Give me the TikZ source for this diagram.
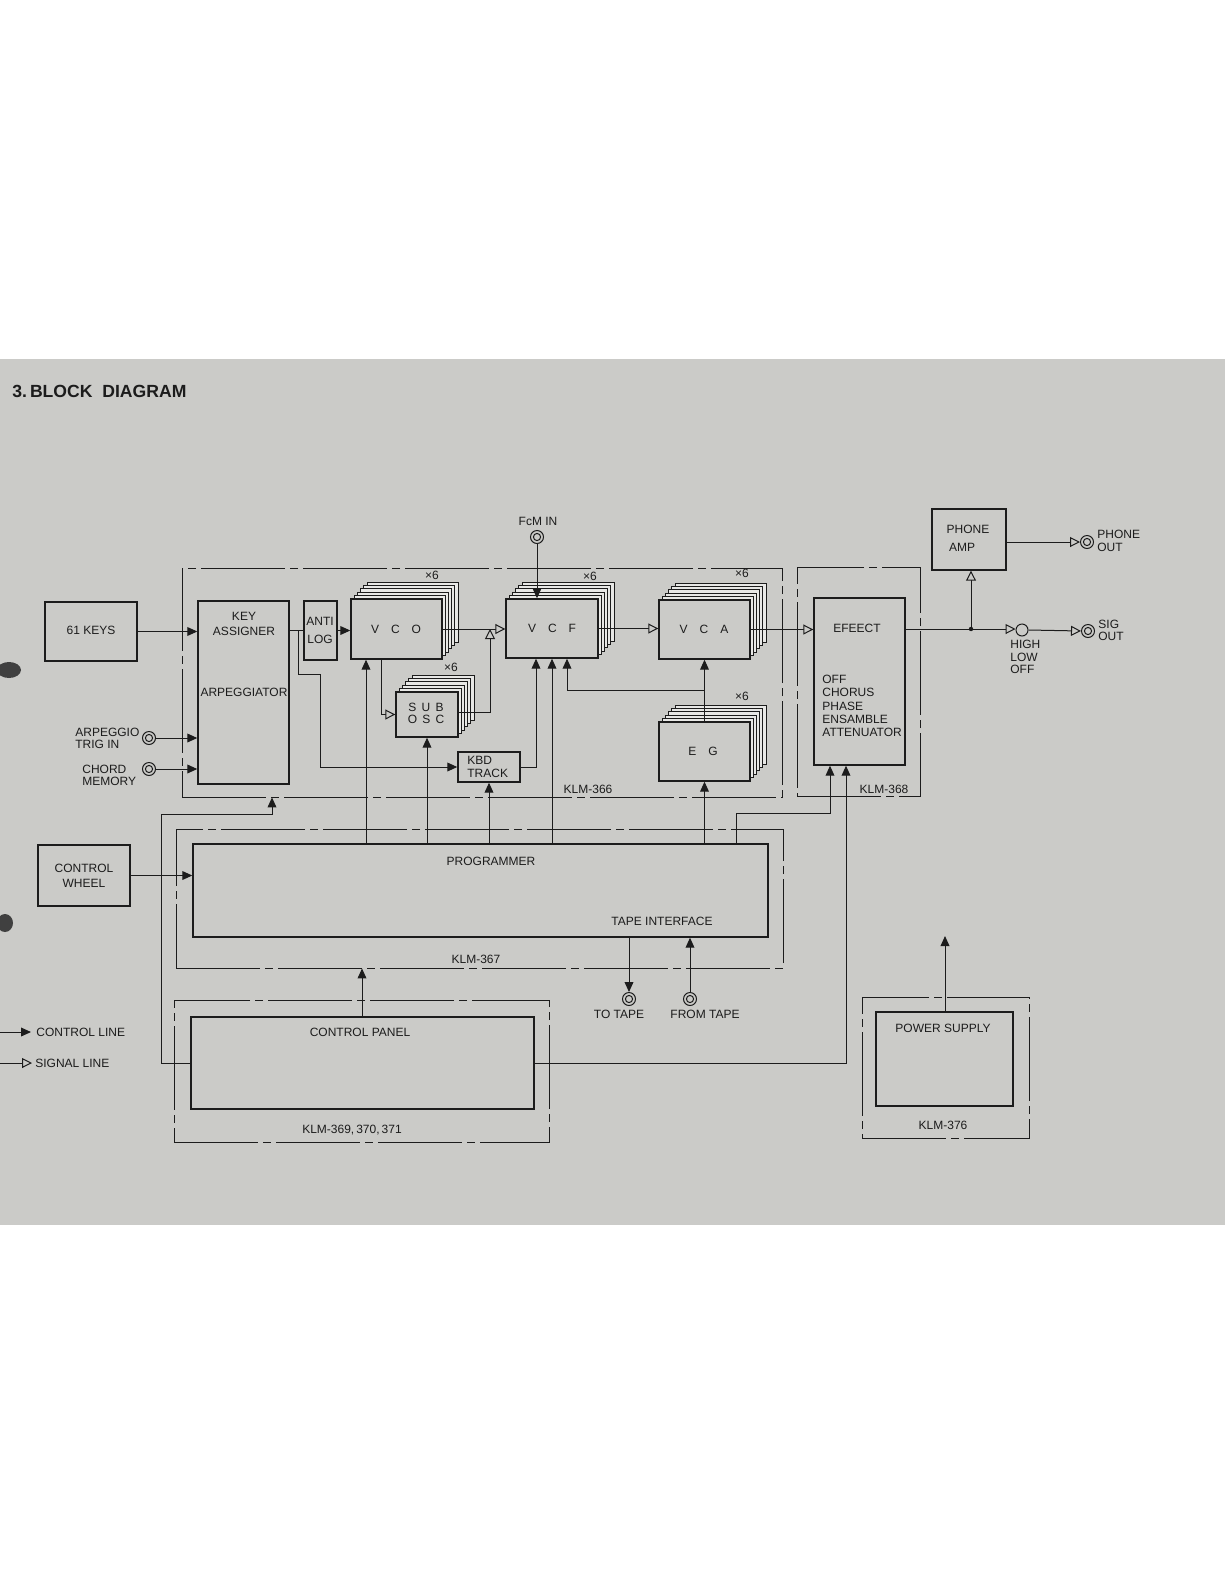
\documentclass[tikz,border=0pt]{standalone}
\usepackage{fontspec}
\setmainfont{Liberation Sans}
\usetikzlibrary{arrows.meta,fit}
\definecolor{paper}{RGB}{203,203,200}
\definecolor{ink}{RGB}{28,28,28}
\tikzset{
  blk/.style={draw=ink, line width=0.7pt, fill=paper, inner sep=0pt},
  sheet/.style={draw=ink, line width=0.4pt, fill=white!55!paper},
  wire/.style={draw=ink, line width=0.5pt},
  ctl/.style={wire, -{Triangle[length=5pt,width=4.4pt]}},
  sig/.style={wire, -{Triangle[open,length=5pt,width=5pt,fill=paper]}},
  dd/.style={draw=ink, line width=0.45pt, inner sep=0pt, dash pattern=on 42pt off 2.5pt on 4pt off 2.5pt},
  txt/.style={inner sep=0pt, text=ink, font=\fontsize{6}{7.2}\selectfont},
  jack/.style={circle, draw=ink, line width=0.5pt, fill=paper, minimum size=6.5pt, inner sep=0pt,
    path picture={\draw[ink, line width=0.5pt] (path picture bounding box.center) circle (1.8pt);}},
  ring/.style={circle, draw=ink, line width=0.5pt, fill=paper, minimum size=6pt, inner sep=0pt}
}
\newcommand\sheets[4]{\foreach \i in {5,4,3,2,1}{\draw[sheet] ({#1+3.2*\i},{#2-3.4*\i}) rectangle ({#3+3.2*\i},{#4-3.4*\i});}}
\begin{document}
\begin{tikzpicture}[x=0.5pt,y=-0.5pt]
\useasboundingbox[fill=white] (0,0) rectangle (1225,1585);
\fill[paper] (0,359) rectangle (1225,1225);
% binder marks
\fill[black!75] (9,670) ellipse (6pt and 4pt);
\fill[black!75] (5,923) ellipse (4pt and 4.5pt);

% title
\node[inner sep=0pt, text=ink, anchor=west, font=\fontsize{8.8}{10}\selectfont\bfseries] (title) at (12,391) {3.\,BLOCK\ \ DIAGRAM};

% board outlines
\node[dd, fit={(182,568)(782,797)}] (k366) {};
\node[dd, fit={(797,567)(920,796)}] (k368) {};
\node[dd, fit={(176,829)(783,968)}] (k367) {};
\node[dd, fit={(174,1000)(549,1142)}] (k369) {};
\node[dd, fit={(862,997)(1029,1138)}] (k376) {};
\node[txt] (l366) at (588,789) {KLM-366};
\node[txt] (l368) at (884,789) {KLM-368};
\node[txt] (l367) at (476,959) {KLM-367};
\node[txt] (l369) at (352,1130) {KLM-369,\,370,\,371};
\node[txt] (l376) at (943,1125) {KLM-376};

% stacked sheets (x6)
\sheets{351}{599}{442}{659}
\sheets{396}{692}{458}{737}
\sheets{506}{599}{598}{658}
\sheets{659}{600}{750}{659}
\sheets{659}{722}{750}{781}

% blocks
\node[blk, fit={(45,602)(137,661)}] (keys) {};
\node[blk, fit={(198,601)(289,784)}] (ka) {};
\node[blk, fit={(304,601)(337,660)}] (antilog) {};
\node[blk, fit={(351,599)(442,659)}] (vco) {};
\node[blk, fit={(396,692)(458,737)}] (subosc) {};
\node[blk, fit={(458,752)(520,782)}] (kbd) {};
\node[blk, fit={(506,599)(598,658)}] (vcf) {};
\node[blk, fit={(659,600)(750,659)}] (vca) {};
\node[blk, fit={(659,722)(750,781)}] (eg) {};
\node[blk, fit={(814,598)(905,765)}] (eff) {};
\node[blk, fit={(932,509)(1006,570)}] (pamp) {};
\node[blk, fit={(38,845)(130,906)}] (wheel) {};
\node[blk, fit={(193,844)(768,937)}] (prog) {};
\node[blk, fit={(191,1017)(534,1109)}] (cpanel) {};
\node[blk, fit={(876,1012)(1013,1106)}] (psu) {};

% jacks
\node[jack] (arp) at (149,738) {};
\node[jack] (chord) at (149,769) {};
\node[jack] (fcm) at (537,537) {};
\node[jack] (phoneout) at (1087,542) {};
\node[jack] (sigout) at (1088,631) {};
\node[jack] (totape) at (629,999) {};
\node[jack] (fromtape) at (690,999) {};
\node[ring] (hl) at (1022,630) {};

% named points
\coordinate (br1) at (298,630);
\coordinate (j1) at (490,629);
\coordinate (j2) at (704,690);
\coordinate (jn) at (971,629);
\coordinate (psuend) at (945,936);
\coordinate (lg1) at (0,1032);
\coordinate (lg2) at (0,1063);

% connectors
\draw[ctl] (keys.east) -- (keys.east -| ka.west);
\draw[ctl] (arp.east) -- (arp.east -| ka.west);
\draw[ctl] (chord.east) -- (chord.east -| ka.west);
\draw[wire] (antilog.west -| ka.east) -- (antilog.west);
\draw[ctl] (antilog.east) -- (antilog.east -| vco.west);
\draw[ctl] (br1) |- (320,674) |- (kbd.west);
\draw[sig] (vco.south -| 381,0) |- (subosc.west);
\draw[sig] (vco.east) -- (vco.east -| vcf.west);
\draw[sig] (subosc.east |- 0,712) -| (j1);
\draw[ctl] (fcm.south) -- (fcm.south |- vcf.north);
\draw[sig] (vcf.east) -- (vcf.east -| vca.west);
\draw[sig] (vca.east) -- (vca.east -| eff.west);
\draw[wire] (jn -| eff.east) -- (jn);
\fill[ink] (jn) circle (1.1pt);
\draw[sig] (jn) -- (jn |- pamp.south);
\draw[sig] (jn) -- (jn -| hl.west);
\draw[sig] (hl.east) -- (sigout.west);
\draw[sig] (phoneout.west -| pamp.east) -- (phoneout.west);
\draw[ctl] (kbd.east) -| (vcf.south -| 536,0);
\draw[ctl] (eg.north) -- (vca.south -| eg.north);
\draw[ctl] (j2) -| (vcf.south -| 567,0);
\draw[ctl] (prog.north -| 366,0) -- (vco.south -| 366,0);
\draw[ctl] (prog.north -| subosc.south) -- (subosc.south);
\draw[ctl] (prog.north -| kbd.south) -- (kbd.south);
\draw[ctl] (prog.north -| vcf.south) -- (vcf.south);
\draw[ctl] (prog.north -| eg.south) -- (eg.south);
\draw[ctl] (prog.north -| 736,0) -- (736,813) -| (eff.south -| 830,0);
\draw[ctl] (cpanel.east) -| (eff.south -| 846,0);
\draw[ctl] (cpanel.west) -| (161,814) -| (k366.south -| 272,0);
\draw[ctl] (cpanel.north -| 362,0) -- (k367.south -| 362,0);
\draw[ctl] (wheel.east) -- (wheel.east -| prog.west);
\draw[ctl] (prog.south -| totape.north) -- (totape.north);
\draw[ctl] (fromtape.north) -- (fromtape.north |- prog.south);
\draw[ctl] (psu.north -| psuend) -- (psuend);

% texts
\node[txt] (t61) at (91,630) {61 KEYS};
\node[txt] (tka1) at (244,616) {KEY};
\node[txt] (tka2) at (244,631) {ASSIGNER};
\node[txt] (tka3) at (244,692) {ARPEGGIATOR};
\node[txt] (tal1) at (320,621) {ANTI};
\node[txt] (tal2) at (320,639) {LOG};
\node[txt] (tvco) at (396,629) {V\quad C\quad O};
\node[txt] (tsub1) at (426,707) {S\hspace{2.6pt}U\hspace{2.6pt}B};
\node[txt] (tsub2) at (426,719) {O\hspace{2.6pt}S\hspace{2.6pt}C};
\node[txt, anchor=west] (tkbd1) at (467,760) {KBD};
\node[txt, anchor=west] (tkbd2) at (467,773) {TRACK};
\node[txt] (tfcm) at (538,521) {FcM IN};
\node[txt] (tvcf) at (552,628) {V\quad C\quad F};
\node[txt] (tvca) at (704,629) {V\quad C\quad A};
\node[txt] (teg) at (703,751) {E\quad G};
\node[txt] (x1) at (432,575) {×6};
\node[txt] (x2) at (451,667) {×6};
\node[txt] (x3) at (590,576) {×6};
\node[txt] (x4) at (742,573) {×6};
\node[txt] (x5) at (742,696) {×6};
\node[txt] (teff) at (857,628) {EFEECT};
\node[txt, anchor=north west, align=left, font=\fontsize{6}{6.6}\selectfont] (tefflist) at (822,675) {OFF\\CHORUS\\PHASE\\ENSAMBLE\\ATTENUATOR};
\node[txt] (tpa1) at (968,529) {PHONE};
\node[txt] (tpa2) at (962,547) {AMP};
\node[txt, anchor=west] (tpo1) at (1097,534) {PHONE};
\node[txt, anchor=west] (tpo2) at (1097,547) {OUT};
\node[txt, anchor=west] (tso1) at (1098,624) {SIG};
\node[txt, anchor=west] (tso2) at (1098,636) {OUT};
\node[txt, anchor=north west, align=left, font=\fontsize{6}{6.2}\selectfont] (thl) at (1010,640) {HIGH\\LOW\\OFF};
\node[txt, anchor=west] (tarp1) at (75,732) {ARPEGGIO};
\node[txt, anchor=west] (tarp2) at (75,744) {TRIG IN};
\node[txt, anchor=west] (tch1) at (82,769) {CHORD};
\node[txt, anchor=west] (tch2) at (82,781) {MEMORY};
\node[txt] (tw1) at (84,868) {CONTROL};
\node[txt] (tw2) at (84,883) {WHEEL};
\node[txt] (tprog) at (491,861) {PROGRAMMER};
\node[txt] (ttape) at (662,921) {TAPE INTERFACE};
\node[txt] (ttot) at (619,1014) {TO TAPE};
\node[txt] (tfromt) at (705,1014) {FROM TAPE};
\node[txt] (tcp) at (360,1032) {CONTROL PANEL};
\node[txt] (tpsu) at (943,1028) {POWER SUPPLY};
\node[txt, anchor=west] (lgc) at (36,1032) {CONTROL LINE};
\node[txt, anchor=west] (lgs) at (35,1063) {SIGNAL LINE};
\draw[ctl] (lg1) -- ([xshift=-2.5pt]lgc.west);
\draw[sig] (lg2) -- ([xshift=-1.5pt]lgs.west);
\end{tikzpicture}
\end{document}
